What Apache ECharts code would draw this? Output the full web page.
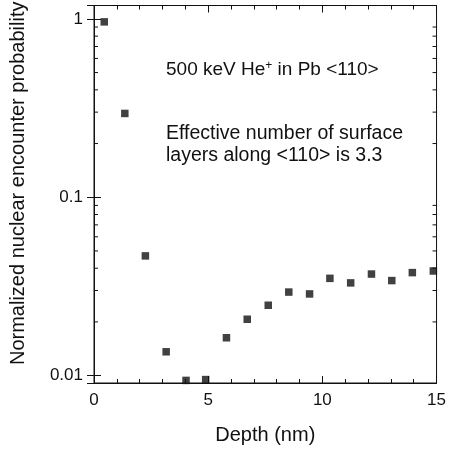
<!DOCTYPE html>
<html><head><meta charset="utf-8">
<script src="https://cdn.jsdelivr.net/npm/echarts@6/dist/echarts.min.js"></script>
<style>html,body{margin:0;padding:0;background:#fff}#c{width:449px;height:450px}</style>
</head><body><div id="c"></div>
<script>
// Data
const depth = [0.45, 1.35, 2.25, 3.16, 4.03, 4.89, 5.8, 6.71, 7.63, 8.53, 9.44, 10.33, 11.24, 12.15, 13.04, 13.94, 14.86];
const probability = [0.962, 0.295, 0.0469, 0.0136, 0.0094, 0.0095, 0.0163, 0.0207, 0.0248, 0.0294, 0.0287, 0.0351, 0.0331, 0.0371, 0.0341, 0.0378, 0.0386];
const xTickValues = [0, 5, 10, 15];
const yMajorTicks = [0.01, 0.1, 1];
const yMinorTicks = [0.02, 0.03, 0.04, 0.05, 0.06, 0.07, 0.08, 0.09, 0.2, 0.3, 0.4, 0.5, 0.6, 0.7, 0.8, 0.9];
const xRange = [0, 15];
const yRange = [0.00909, 1.188];
const title1 = '500 keV He';
const title1b = ' in Pb <110>';
const note = ['Effective number of surface', 'layers along <110> is 3.3'];

const FONT = '"Liberation Sans", Arial, Helvetica, sans-serif';
const INK = '#111';
const chart = echarts.init(document.getElementById('c'), null, {renderer: 'canvas'});

const scatterData = depth.map((d, i) => [d, probability[i]]);

const option = {
  animation: false,
  backgroundColor: '#fff',
  grid: {left: 92, right: 10.5, top: 4, bottom: 64, show: true, borderColor: INK, borderWidth: 1, containLabel: false},
  xAxis: [{
    type: 'value', position: 'bottom', min: xRange[0], max: xRange[1], interval: 5,
    name: 'Depth (nm)', nameLocation: 'middle', nameGap: 42,
    nameTextStyle: {fontFamily: FONT, fontSize: 20, color: INK},
    axisLine: {show: true, lineStyle: {color: INK, width: 1}},
    axisTick: {show: true, inside: true, length: 7, lineStyle: {color: INK}},
    minorTick: {show: true, splitNumber: 5, length: 4, lineStyle: {color: INK}},
    splitLine: {show: false},
    axisLabel: {fontFamily: FONT, fontSize: 17, color: INK, margin: 9,
      formatter: v => xTickValues.includes(v) ? String(v) : ''}
  }, {
    type: 'value', position: 'top', min: xRange[0], max: xRange[1], interval: 5,
    axisLine: {show: true, lineStyle: {color: INK, width: 1}},
    axisTick: {show: true, inside: true, length: 7, lineStyle: {color: INK}},
    minorTick: {show: true, splitNumber: 5, length: 4, lineStyle: {color: INK}},
    splitLine: {show: false}, axisLabel: {show: false}
  }],
  yAxis: [{
    type: 'log', logBase: 10, position: 'left', min: yRange[0], max: yRange[1],
    name: 'Normalized nuclear encounter probability', nameLocation: 'middle', nameGap: 66,
    nameTextStyle: {fontFamily: FONT, fontSize: 20, color: INK, padding: [0, 0, 0, 22]},
    axisLine: {show: true, lineStyle: {color: INK, width: 1}},
    axisTick: {show: true, inside: true, length: 7, lineStyle: {color: INK}},
    splitLine: {show: false},
    axisLabel: {fontFamily: FONT, fontSize: 17, color: INK, margin: 11, showMinLabel: false, showMaxLabel: false,
      formatter: v => {
        const m = yMajorTicks.find(t => Math.abs(Math.log10(v) - Math.log10(t)) < 1e-6);
        return m !== undefined ? String(m) : '';
      }}
  }, {
    type: 'log', logBase: 10, position: 'right', min: yRange[0], max: yRange[1],
    axisLine: {show: true, lineStyle: {color: INK, width: 1}},
    axisTick: {show: true, inside: true, length: 7, lineStyle: {color: INK}},
    splitLine: {show: false}, axisLabel: {show: false}
  }],
  series: [{
    type: 'custom', xAxisIndex: 0, yAxisIndex: 0, silent: true, clip: false,
    data: yMinorTicks.map(v => [xRange[0], v]),
    renderItem: (params, api) => {
      const cs = params.coordSys;
      const y = api.coord([xRange[0], api.value(1)])[1];
      const len = 4;
      return {type: 'group', children: [
        {type: 'line', shape: {x1: cs.x, y1: y, x2: cs.x + len, y2: y}, style: {stroke: INK, lineWidth: 1}},
        {type: 'line', shape: {x1: cs.x + cs.width - len, y1: y, x2: cs.x + cs.width, y2: y}, style: {stroke: INK, lineWidth: 1}}
      ]};
    }
  }, {
    type: 'scatter', xAxisIndex: 0, yAxisIndex: 0, data: scatterData, clip: false,
    symbol: 'rect', symbolSize: 7.5, itemStyle: {color: INK}
  }],
  graphic: [{
    type: 'text', left: 166, top: 60,
    style: {
      text: '{a|' + title1 + '}{s|+}{a|' + title1b + '}',
      rich: {
        a: {fontFamily: FONT, fontSize: 19, fill: INK},
        s: {fontFamily: FONT, fontSize: 12, fill: INK, verticalAlign: 'top', padding: [0, 0, 8, 0]}
      }
    }
  }, {
    type: 'text', left: 166, top: 123,
    style: {text: note.join('\n'), fontFamily: FONT, fontSize: 19.5, lineHeight: 22, fill: INK}
  }]
};
chart.setOption(option);
</script></body></html>
